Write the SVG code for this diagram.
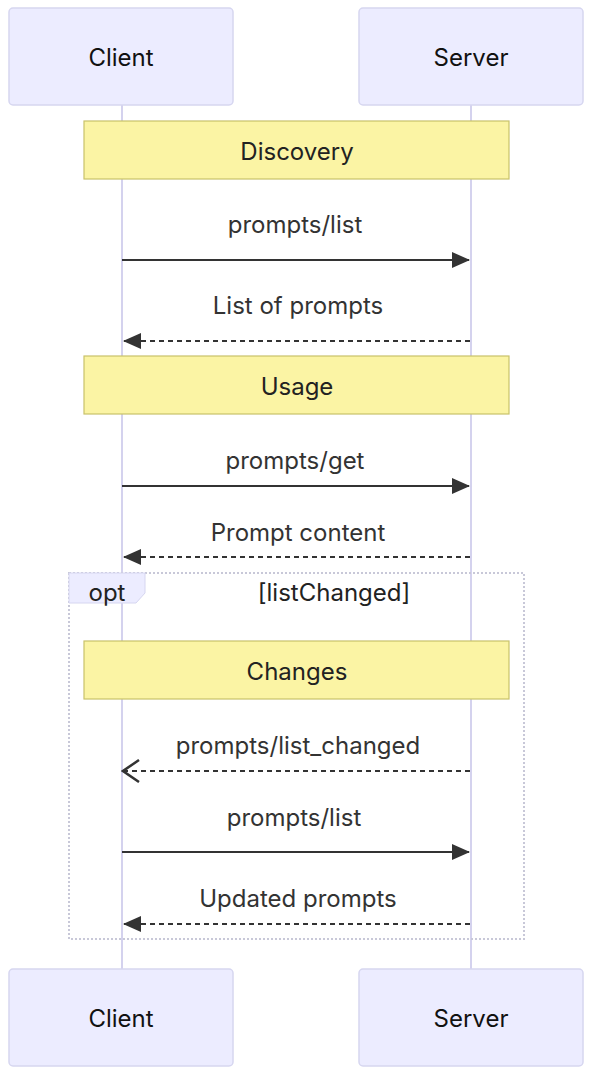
<svg xmlns="http://www.w3.org/2000/svg" width="594" height="1078" viewBox="0 0 594 1078">
<style>
text{font-family:Inter,"Liberation Sans",sans-serif;font-size:24px;text-anchor:middle;dominant-baseline:central}
.actor{fill:#ececff;stroke:#d6d6f0;stroke-width:1.5}
.atext{fill:#111}
.life{stroke:#d4d2ee;stroke-width:2}
.note{fill:#fbf4a4;stroke:#c9c16a;stroke-width:1.2}
.ntext{fill:#222}
.msg{stroke:#333;stroke-width:2;fill:none}
.dash{stroke-dasharray:5,4}
.mtext{fill:#333}
</style>
<defs>
<marker id="arrF" viewBox="0 0 18 16" refX="17" refY="8" markerWidth="18" markerHeight="16" markerUnits="userSpaceOnUse" orient="auto">
<path d="M0,0 L18,8 L0,16 z" fill="#333"/>
</marker>
<marker id="open" viewBox="0 0 20 24" refX="18" refY="12" markerWidth="20" markerHeight="24" markerUnits="userSpaceOnUse" orient="auto">
<path d="M2,1 L18,12 L2,23" fill="none" stroke="#333" stroke-width="2.5"/>
</marker>
</defs>
<g id="lifelines">
<line class="life" x1="122" y1="105" x2="122" y2="969"/>
<line class="life" x1="471" y1="105" x2="471" y2="969"/>
</g>
<g id="client-top"><rect class="actor" x="9" y="8" width="224" height="97" rx="4"/><text class="atext" x="121" y="57">Client</text></g>
<g id="server-top"><rect class="actor" x="359" y="8" width="224" height="97" rx="4"/><text class="atext" x="471" y="57">Server</text></g>
<g id="client-bottom"><rect class="actor" x="9" y="969" width="224" height="97" rx="4"/><text class="atext" x="121" y="1018">Client</text></g>
<g id="server-bottom"><rect class="actor" x="359" y="969" width="224" height="97" rx="4"/><text class="atext" x="471" y="1018">Server</text></g>
<g id="opt-frame">
<rect x="69" y="573" width="455" height="366" fill="none" stroke="#c8c8d8" stroke-width="2" stroke-dasharray="2,2"/>
<path d="M69,573 L145,573 L145,593 L136,603 L69,603 z" fill="#ececff" stroke="#d6d6f0" stroke-width="1"/>
<text class="ntext" x="107" y="592">opt</text>
<text class="ntext" x="334" y="592">[listChanged]</text>
</g>
<g id="note-discovery"><rect class="note" x="84" y="121" width="425" height="58"/><text class="ntext" x="297" y="151">Discovery</text></g>
<g id="note-usage"><rect class="note" x="84" y="356" width="425" height="58"/><text class="ntext" x="297" y="386">Usage</text></g>
<g id="note-changes"><rect class="note" x="84" y="641" width="425" height="58"/><text class="ntext" x="297" y="671">Changes</text></g>
<g id="connectors">
<line class="msg" x1="122" y1="260" x2="469" y2="260" marker-end="url(#arrF)"/>
<text class="mtext" x="295" y="224">prompts/list</text>
<line class="msg dash" x1="470" y1="341" x2="124" y2="341" marker-end="url(#arrF)"/>
<text class="mtext" x="298" y="305">List of prompts</text>
<line class="msg" x1="122" y1="486" x2="469" y2="486" marker-end="url(#arrF)"/>
<text class="mtext" x="295" y="460">prompts/get</text>
<line class="msg dash" x1="470" y1="557" x2="124" y2="557" marker-end="url(#arrF)"/>
<text class="mtext" x="298" y="532">Prompt content</text>
<line class="msg dash" x1="470" y1="771" x2="123" y2="771" marker-end="url(#open)"/>
<text class="mtext" x="298" y="745">prompts/list_changed</text>
<line class="msg" x1="122" y1="852" x2="469" y2="852" marker-end="url(#arrF)"/>
<text class="mtext" x="294" y="817">prompts/list</text>
<line class="msg dash" x1="470" y1="924" x2="124" y2="924" marker-end="url(#arrF)"/>
<text class="mtext" x="298" y="898">Updated prompts</text>
</g>
</svg>
